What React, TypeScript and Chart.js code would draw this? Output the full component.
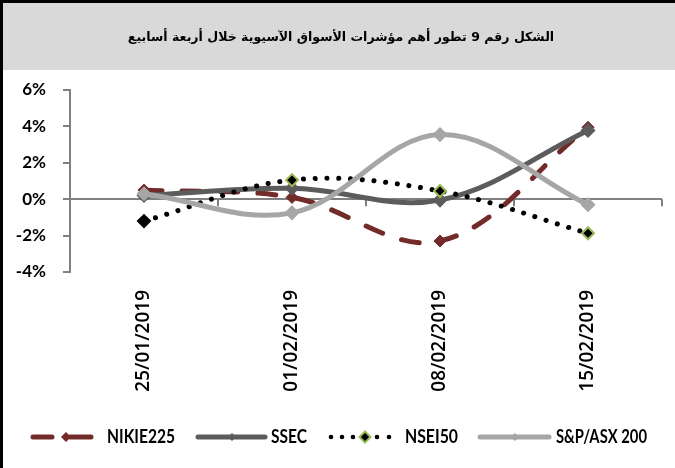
import React, { useEffect, useRef } from 'react';
import { Chart, registerables } from 'chart.js';

Chart.register(...registerables);

const W = 675;
const H = 468;

const titleText = 'الشكل رقم 9 تطور أهم مؤشرات الأسواق الآسيوية خلال أربعة أسابيع';
const categories = ['25/01/2019', '01/02/2019', '08/02/2019', '15/02/2019'];
const seriesNames = ['NIKIE225', 'SSEC', 'NSEI50', 'S&P/ASX 200'];
const nikkeiValues = [0.5, 0.1, -2.3, 3.95];
const ssecValues = [0.2, 0.6, -0.05, 3.78];
const nseiValues = [-1.2, 1.05, 0.45, -1.87];
const asxValues = [0.3, -0.75, 3.55, -0.3];
const yMin = -4;
const yMax = 6;
const yStep = 2;

const RED = '#722b29';
const DGRAY = '#5c5c5c';
const LGRAY = '#a6a6a6';
const GREEN = '#9bbb59';

const LABEL_FONT = "'Lato', sans-serif";

export default function App() {
  const ref = useRef<HTMLCanvasElement>(null);

  useEffect(() => {
    document.body.style.margin = '0';
    const canvas = ref.current;
    if (!canvas) return;

    const framePlugin = {
      id: 'frame',
      beforeDraw(chart: any) {
        const ctx = chart.ctx;
        ctx.save();
        ctx.fillStyle = '#ffffff';
        ctx.fillRect(0, 0, W, H);
        ctx.fillStyle = '#d9d9d9';
        ctx.fillRect(0, 0, W, 70);
        ctx.fillStyle = '#000000';
        ctx.fillRect(0, 0, W, 3);
        ctx.fillRect(0, 0, 3, H);
        // title
        let size = 16;
        ctx.font = `bold ${size}px 'DejaVu Sans', sans-serif`;
        const w = ctx.measureText(titleText).width;
        size = Math.max(10, Math.min(20, (size * 427) / w));
        ctx.font = `bold ${size}px 'DejaVu Sans', sans-serif`;
        ctx.direction = 'rtl';
        ctx.textAlign = 'center';
        ctx.textBaseline = 'middle';
        ctx.fillStyle = '#000000';
        ctx.fillText(titleText, 341, 38);
        ctx.restore();
      },
      beforeDatasetsDraw(chart: any) {
        const ctx = chart.ctx;
        const xs = chart.scales.x;
        const ys = chart.scales.y;
        const y0 = ys.getPixelForValue(0);
        ctx.save();
        ctx.strokeStyle = '#808080';
        ctx.lineWidth = 2;
        for (let i = 0; i < categories.length; i++) {
          const x = xs.getPixelForValue(i + 0.5);
          ctx.beginPath();
          ctx.moveTo(x, y0);
          ctx.lineTo(x, y0 + 7);
          ctx.stroke();
        }
        ctx.restore();
      },
      afterDraw(chart: any) {
        const ctx = chart.ctx;
        const ly = 437;
        ctx.save();
        const diamond = (x: number, y: number, r: number, fill: string, stroke?: string) => {
          ctx.save();
          ctx.beginPath();
          ctx.moveTo(x, y - r);
          ctx.lineTo(x + r, y);
          ctx.lineTo(x, y + r);
          ctx.lineTo(x - r, y);
          ctx.closePath();
          ctx.fillStyle = fill;
          ctx.fill();
          if (stroke) {
            ctx.strokeStyle = stroke;
            ctx.lineWidth = 2;
            ctx.stroke();
          }
          ctx.restore();
        };
        ctx.lineCap = 'round';
        ctx.lineWidth = 5;
        // NIKIE225
        ctx.strokeStyle = RED;
        ctx.beginPath();
        ctx.moveTo(33, ly);
        ctx.lineTo(52, ly);
        ctx.moveTo(70, ly);
        ctx.lineTo(91, ly);
        ctx.stroke();
        diamond(66, ly, 5, RED);
        // SSEC
        ctx.strokeStyle = DGRAY;
        ctx.beginPath();
        ctx.moveTo(198, ly);
        ctx.lineTo(265, ly);
        ctx.stroke();
        diamond(232, ly, 4, DGRAY);
        // NSEI50
        ctx.fillStyle = '#000';
        for (const dx of [331, 342, 353, 377, 389]) {
          ctx.beginPath();
          ctx.arc(dx, ly, 2.3, 0, Math.PI * 2);
          ctx.fill();
        }
        diamond(365, ly, 5.5, '#000', GREEN);
        // S&P
        ctx.strokeStyle = LGRAY;
        ctx.lineWidth = 5;
        ctx.beginPath();
        ctx.moveTo(480, ly);
        ctx.lineTo(549, ly);
        ctx.stroke();
        diamond(515, ly, 4, LGRAY);
        // texts
        ctx.fillStyle = '#000';
        ctx.font = `bold 18px ${LABEL_FONT}`;
        ctx.textAlign = 'left';
        ctx.textBaseline = 'middle';
        const tx = [107, 271, 405, 556];
        const tw = [68, 36, 53, 91];
        seriesNames.forEach((n, i) => {
          const mw = ctx.measureText(n).width;
          const sx = tw[i] / mw;
          ctx.save();
          ctx.translate(tx[i], ly);
          ctx.scale(sx, 1);
          ctx.fillText(n, 0, 0);
          ctx.restore();
        });
        ctx.restore();
      },
    };

    const chart = new Chart(canvas, {
      type: 'line',
      data: {
        labels: categories,
        datasets: [
          {
            label: seriesNames[0],
            data: nikkeiValues,
            borderColor: RED,
            backgroundColor: RED,
            borderWidth: 5,
            borderDash: [18, 20],
            borderCapStyle: 'round',
            tension: 0.36,
            pointStyle: 'rectRot',
            pointRadius: 6,
            pointBackgroundColor: RED,
            pointBorderColor: RED,
            pointBorderWidth: 1,
            order: 4,
          },
          {
            label: seriesNames[1],
            data: ssecValues,
            borderColor: DGRAY,
            backgroundColor: DGRAY,
            borderWidth: 5,
            borderCapStyle: 'round',
            tension: 0.36,
            pointStyle: 'rectRot',
            pointRadius: 4,
            pointBackgroundColor: DGRAY,
            pointBorderColor: DGRAY,
            order: 3,
          },
          {
            label: seriesNames[2],
            data: nseiValues,
            borderColor: '#000000',
            backgroundColor: '#000000',
            borderWidth: 5,
            borderDash: [0.1, 11.7],
            borderCapStyle: 'round',
            tension: 0.36,
            pointStyle: 'rectRot',
            pointRadius: 6,
            pointBackgroundColor: '#000000',
            pointBorderColor: ['#000000', GREEN, GREEN, GREEN],
            pointBorderWidth: 2,
            order: 2,
          },
          {
            label: seriesNames[3],
            data: asxValues,
            borderColor: LGRAY,
            backgroundColor: LGRAY,
            borderWidth: 5,
            borderCapStyle: 'round',
            tension: 0.36,
            pointStyle: 'rectRot',
            pointRadius: 4,
            pointBackgroundColor: LGRAY,
            pointBorderColor: LGRAY,
            order: 1,
          },
        ],
      },
      options: {
        animation: false,
        responsive: false,
        devicePixelRatio: 1,
        layout: { padding: { top: 90, bottom: 70, left: 0, right: 13 } },
        plugins: {
          legend: { display: false },
          tooltip: { enabled: false },
          title: { display: false },
        },
        scales: {
          x: {
            offset: true,
            grid: { display: false, drawTicks: false },
            border: { display: false },
            ticks: {
              minRotation: 90,
              maxRotation: 90,
              padding: 18,
              color: '#000',
              font: { family: "'Open Sans', sans-serif", size: 19, weight: '600' },
            },
            afterFit(scale: any) {
              scale.height = 126;
            },
          },
          y: {
            min: yMin,
            max: yMax,
            ticks: {
              stepSize: yStep,
              padding: 17,
              color: '#000',
              font: { family: LABEL_FONT, size: 17, weight: 'bold' },
              callback: (v: any) => `${v}%`,
            },
            grid: {
              color: (c: any) => (c.tick && c.tick.value === 0 ? '#808080' : 'rgba(0,0,0,0)'),
              lineWidth: 2,
              tickColor: '#808080',
              tickLength: 7,
            },
            border: { color: '#808080', width: 2 },
            afterFit(scale: any) {
              scale.width = 70;
            },
          },
        },
      },
      plugins: [framePlugin],
    } as any);

    return () => chart.destroy();
  }, []);

  return (
    <div style={{ width: W, height: H }}>
      <canvas ref={ref} width={W} height={H} style={{ display: 'block' }} />
    </div>
  );
}
